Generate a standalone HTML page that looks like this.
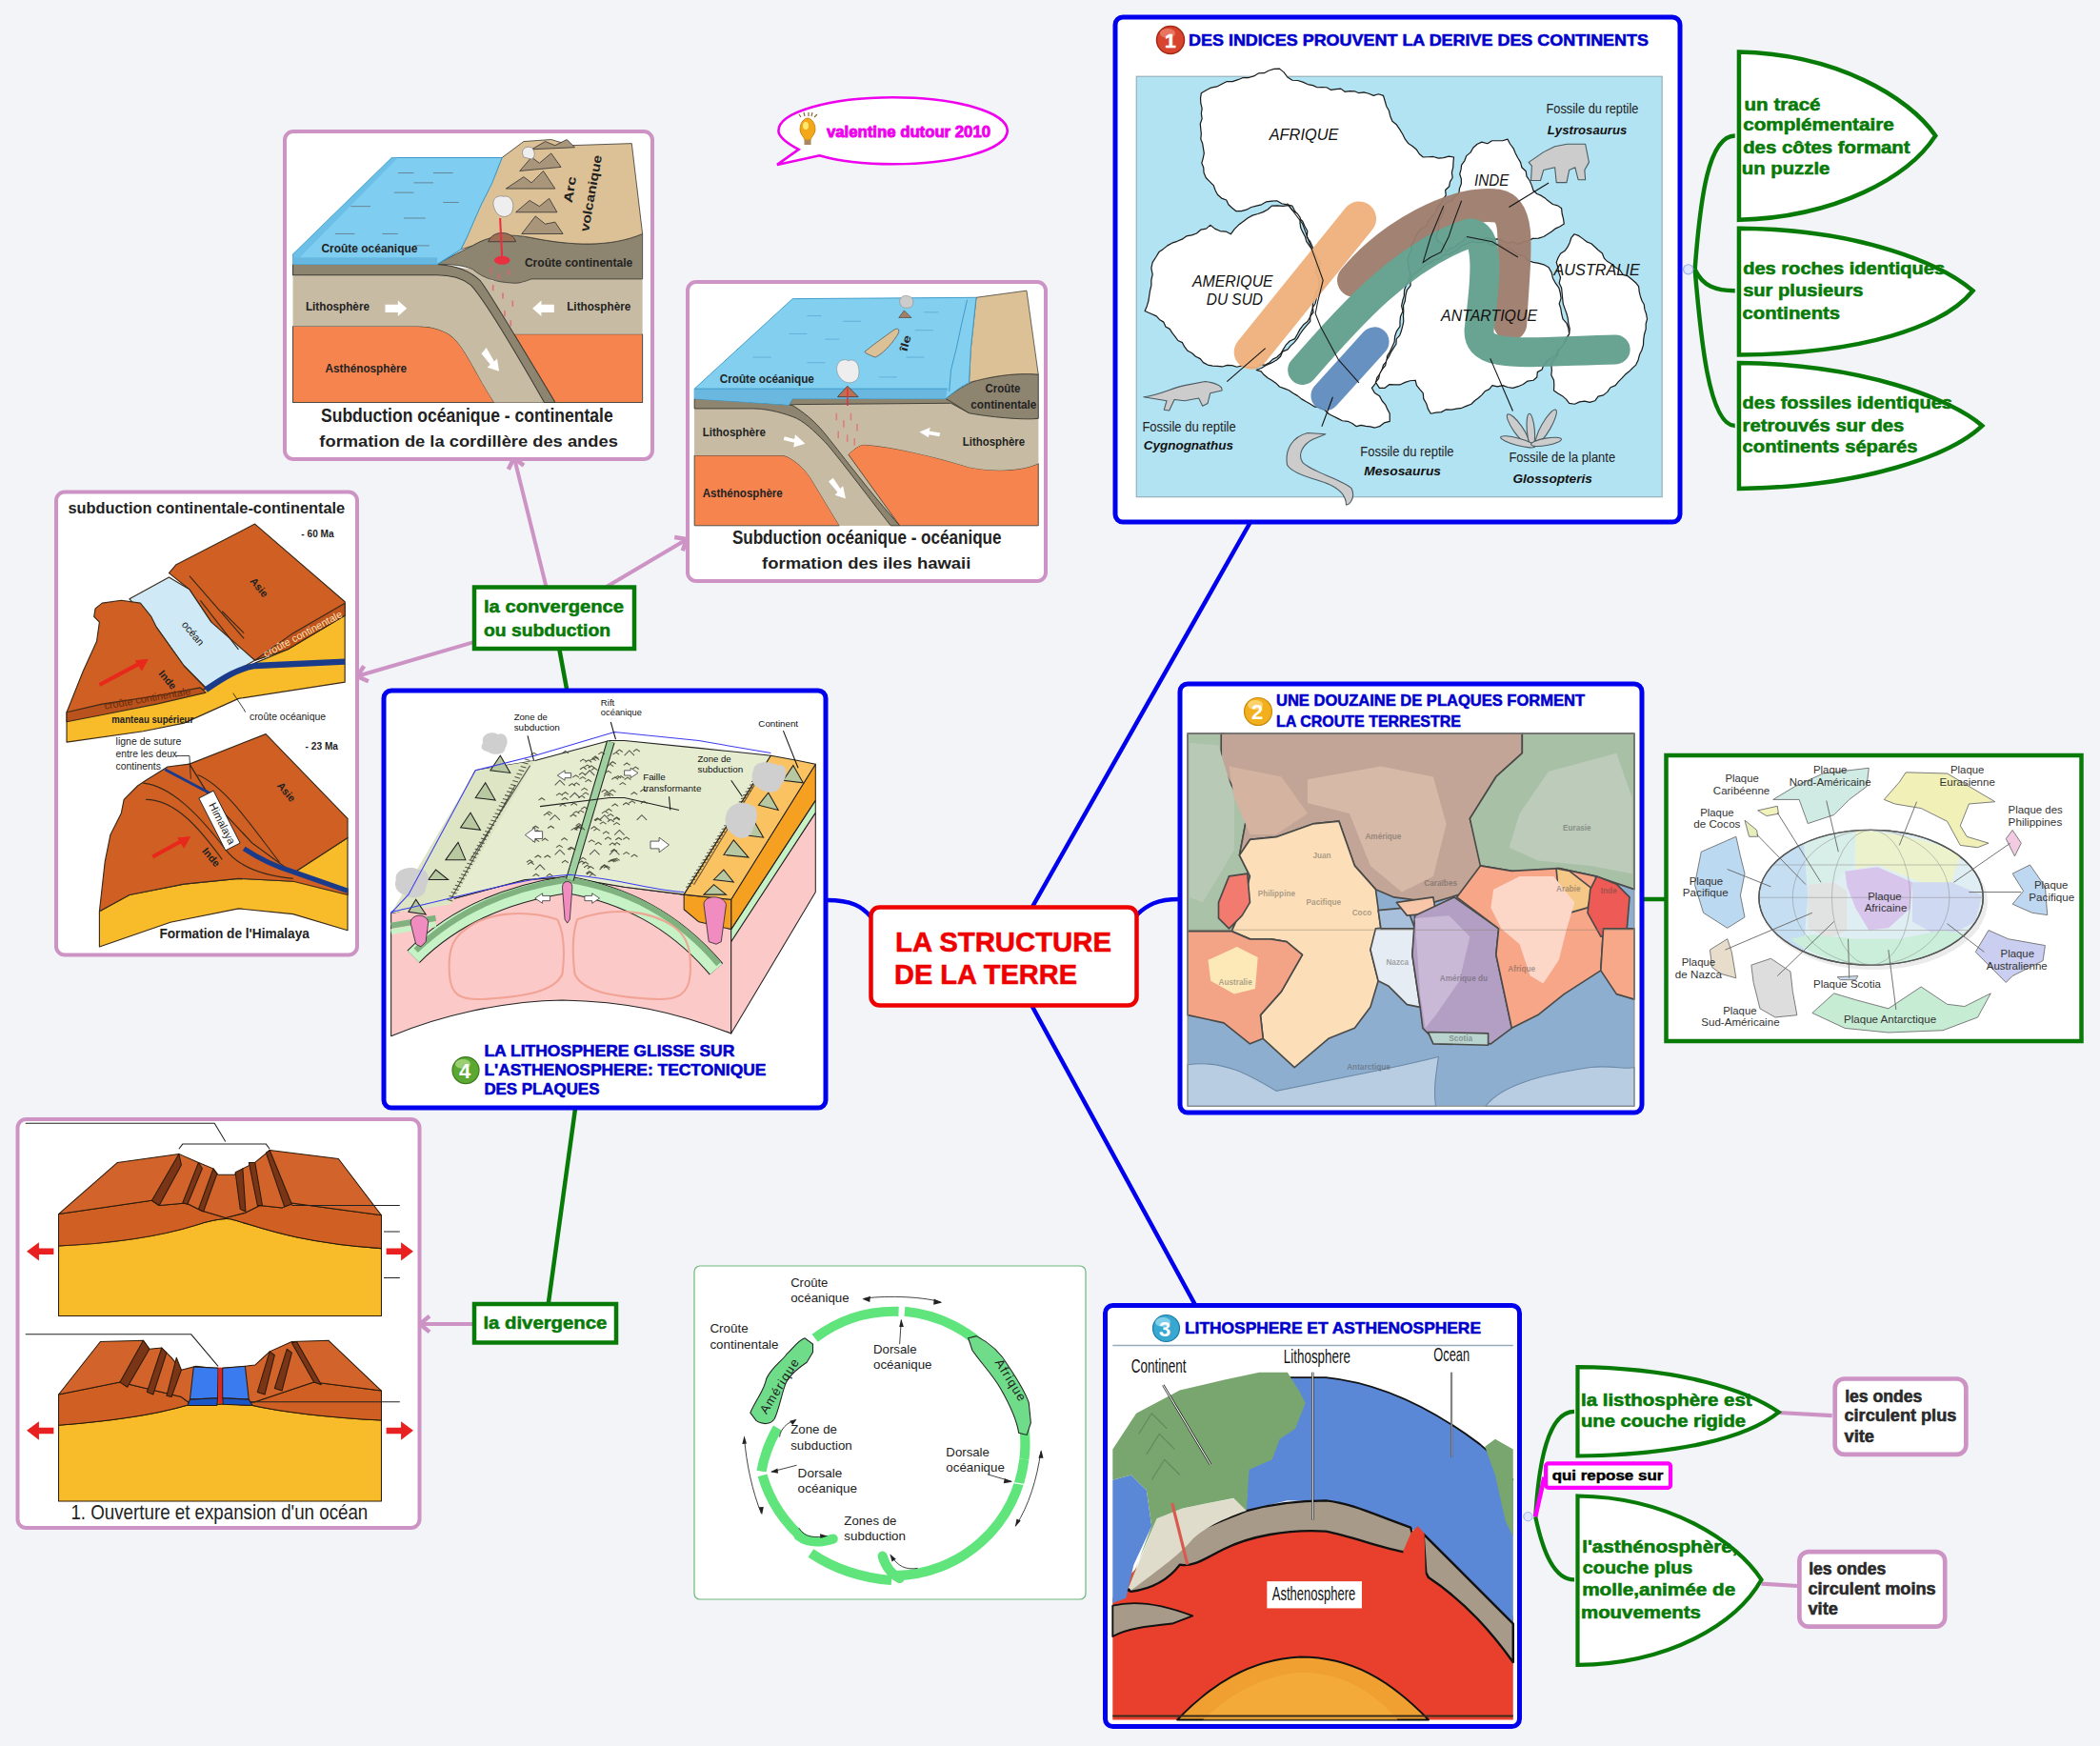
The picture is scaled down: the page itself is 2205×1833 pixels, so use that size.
<!DOCTYPE html>
<html><head><meta charset="utf-8">
<style>
html,body{margin:0;padding:0;background:#f2f4f8;width:2205px;height:1833px;overflow:hidden}
svg{position:absolute;left:0;top:0;display:block}
text{font-family:"Liberation Sans",sans-serif}
.b{font-weight:bold}
</style></head><body>
<svg width="2205" height="1833" viewBox="0 0 2205 1833">
<rect x="0" y="0" width="2205" height="1833" fill="#f2f4f8"/>

<!-- ===== connectors ===== -->
<g fill="none" stroke-linecap="round">
  <!-- blue main branches -->
  <line x1="1084" y1="952" x2="1313" y2="548" stroke="#0000ee" stroke-width="4.5"/>
  <line x1="1083" y1="1055" x2="1255" y2="1370" stroke="#0000ee" stroke-width="4.5"/>
  <path d="M868,945 C895,945 905,952 914,962" stroke="#0000ee" stroke-width="4.5"/>
  <path d="M1194,960 C1205,950 1215,944 1238,944" stroke="#0000ee" stroke-width="4.5"/>
  <!-- green from box4 -->
  <line x1="587.6" y1="683" x2="595" y2="723" stroke="#087a08" stroke-width="4.5"/>
  <line x1="604" y1="1164" x2="576" y2="1367" stroke="#087a08" stroke-width="4.5"/>
  <!-- pink arrows -->
  <line x1="573.5" y1="616" x2="541" y2="485" stroke="#cc93c4" stroke-width="4"/>
  <line x1="636.9" y1="616" x2="718" y2="568" stroke="#cc93c4" stroke-width="4"/>
  <line x1="496.6" y1="674.4" x2="378" y2="709" stroke="#cc93c4" stroke-width="4"/>
  <line x1="497" y1="1390" x2="443" y2="1390" stroke="#cc93c4" stroke-width="4"/>
  <!-- right green connectors box1 -->
  <!-- box2 -> world -->
  <line x1="1726" y1="944" x2="1748" y2="944" stroke="#087a08" stroke-width="4.5"/>
  <!-- box3 right -->
</g>

<path d="M533.8,492.7 L539.5,481.0 L550.0,488.6" fill="none" stroke="#cc93c4" stroke-width="4.5" stroke-linejoin="miter"/>
<path d="M708.2,564.0 L721.0,566.0 L716.8,578.3" fill="none" stroke="#cc93c4" stroke-width="4.5" stroke-linejoin="miter"/>
<path d="M386.9,715.2 L375.0,710.0 L382.2,699.2" fill="none" stroke="#cc93c4" stroke-width="4.5" stroke-linejoin="miter"/>
<path d="M451.0,1398.4 L441.0,1390.0 L451.0,1381.6" fill="none" stroke="#cc93c4" stroke-width="4.5" stroke-linejoin="miter"/>
<!-- ===== central node ===== -->
<rect x="914.5" y="952.5" width="279" height="103" rx="9" fill="#fff" stroke="#ee0000" stroke-width="4.5"/>
<text class="b" x="940" y="998.5" font-size="29" fill="#ee0000" textLength="227" lengthAdjust="spacingAndGlyphs" stroke="#ee0000" stroke-width="0.55">LA STRUCTURE</text>
<text class="b" x="939" y="1032.5" font-size="29" fill="#ee0000" textLength="192" lengthAdjust="spacingAndGlyphs" stroke="#ee0000" stroke-width="0.55">DE LA TERRE</text>

<!-- ===== box 1 ===== -->
<rect x="1171" y="18" width="593" height="530" rx="8" fill="#fff" stroke="#0000ee" stroke-width="5"/>
<g transform="translate(1190,60) scale(0.26923)">
  <rect x="12" y="75" width="2050" height="1640" fill="#b1e3f2" stroke="#8fa9b3" stroke-width="4"/>
  <clipPath id="c1"><rect x="12" y="20" width="2050" height="1740"/></clipPath>
  <g stroke="#1a1a1a" stroke-width="4.5" fill="#fff" stroke-linejoin="round">
    <path d="M265,140 L284,129 L303,119 L326,115 L345,105 L365,95 L387,95 L408,88 L428,80 L450,80 L470,74 L488,63 L510,62 L529,52 L549,46 L570,45 L587,59 L601,78 L620,90 L641,91 L661,97 L680,106 L700,110 L717,118 L736,117 L754,118 L771,128 L790,125 L809,123 L825,135 L844,132 L863,133 L880,140 L899,137 L918,142 L937,150 L956,144 L975,150 L981,170 L987,191 L997,209 L1002,230 L1010,250 L1027,264 L1039,282 L1050,300 L1060,320 L1072,336 L1089,347 L1104,360 L1115,377 L1130,390 L1150,389 L1170,388 L1190,394 L1210,392 L1230,387 L1250,390 L1248,410 L1247,430 L1242,450 L1245,470 L1235,486 L1232,504 L1217,518 L1219,539 L1208,554 L1200,570 L1185,586 L1178,607 L1163,623 L1150,640 L1142,659 L1123,669 L1110,683 L1100,700 L1093,718 L1084,735 L1084,755 L1074,771 L1070,790 L1072,810 L1076,830 L1080,850 L1075,870 L1064,889 L1057,908 L1056,930 L1050,950 L1046,970 L1051,991 L1042,1010 L1040,1030 L1040,1050 L1027,1068 L1020,1089 L1018,1111 L1009,1131 L1000,1150 L990,1166 L988,1186 L975,1200 L970,1218 L962,1235 L950,1250 L945,1272 L930,1290 L941,1309 L960,1321 L970,1340 L983,1355 L991,1373 L1000,1390 L1000,1420 L978,1426 L960,1440 L942,1445 L924,1441 L906,1439 L888,1435 L870,1440 L854,1428 L836,1420 L815,1418 L798,1409 L780,1400 L762,1391 L747,1376 L730,1365 L708,1364 L691,1353 L673,1343 L656,1333 L640,1320 L623,1310 L607,1299 L589,1292 L570,1285 L556,1271 L540,1260 L524,1251 L510,1239 L498,1225 L480,1220 L501,1212 L520,1200 L541,1191 L560,1180 L574,1167 L582,1148 L602,1140 L614,1125 L628,1112 L640,1097 L650,1080 L662,1063 L676,1046 L690,1030 L690,1011 L702,995 L700,976 L710,960 L715,938 L727,918 L740,900 L734,880 L734,860 L729,841 L726,821 L730,800 L716,782 L706,762 L699,741 L690,720 L677,702 L679,678 L669,660 L660,640 L646,627 L638,612 L628,596 L620,580 L599,575 L579,571 L560,560 L539,561 L519,564 L500,575 L480,580 L460,585 L441,595 L421,600 L400,600 L385,588 L371,575 L363,557 L344,550 L329,537 L320,520 L313,500 L298,485 L283,470 L275,450 L274,431 L267,413 L272,394 L276,375 L273,356 L270,337 L263,319 L265,300 L263,280 L261,260 L268,240 L265,220 L268,200 L263,180 L262,160 Z"/>
    <path d="M45,990 L53,971 L59,951 L62,931 L65,911 L70,891 L70,870 L75,847 L70,823 L75,800 L88,780 L100,760 L117,748 L133,735 L151,725 L171,718 L190,710 L207,698 L228,694 L247,687 L263,673 L284,669 L300,655 L318,669 L338,678 L361,680 L380,690 L394,671 L411,654 L430,640 L447,627 L465,617 L486,611 L506,604 L524,594 L540,580 L562,579 L583,581 L605,578 L620,597 L640,610 L651,626 L650,647 L653,666 L661,683 L670,700 L675,718 L685,733 L696,748 L697,768 L709,783 L715,800 L713,820 L713,841 L722,860 L724,880 L725,900 L712,918 L706,939 L700,960 L699,979 L694,996 L689,1014 L680,1030 L663,1044 L650,1061 L640,1080 L630,1098 L610,1107 L596,1121 L585,1139 L575,1156 L560,1170 L544,1178 L530,1191 L515,1200 L493,1199 L480,1212 L461,1209 L442,1209 L423,1203 L404,1208 L385,1202 L366,1201 L347,1207 L328,1205 L309,1204 L290,1200 L273,1191 L261,1176 L243,1167 L229,1154 L212,1145 L200,1130 L191,1113 L174,1105 L163,1090 L152,1076 L142,1060 L126,1051 L118,1033 L102,1023 L90,1010 L68,1000 Z"/>
    <path d="M1280,420 L1292,404 L1299,385 L1315,372 L1325,354 L1340,340 L1359,331 L1381,337 L1399,326 L1420,326 L1440,326 L1460,320 L1469,338 L1482,355 L1490,374 L1499,392 L1510,410 L1515,430 L1531,445 L1534,465 L1546,482 L1554,501 L1560,520 L1574,533 L1591,540 L1607,551 L1621,563 L1636,574 L1655,579 L1670,590 L1672,610 L1677,630 L1680,650 L1664,660 L1647,668 L1632,680 L1616,690 L1600,700 L1580,706 L1558,707 L1539,716 L1519,720 L1500,730 L1481,721 L1459,725 L1440,717 L1421,709 L1400,710 L1380,704 L1360,710 L1340,709 L1320,703 L1300,700 L1287,716 L1270,726 L1255,740 L1235,746 L1220,760 L1213,743 L1204,727 L1187,717 L1180,700 L1188,681 L1192,660 L1191,639 L1204,621 L1210,601 L1210,580 L1223,565 L1243,559 L1254,542 L1270,530 L1272,512 L1279,494 L1279,475 L1273,456 L1278,438 Z"/>
    <path d="M1090,850 L1108,838 L1124,823 L1140,810 L1160,800 L1177,790 L1197,786 L1212,771 L1232,769 L1250,760 L1267,749 L1282,735 L1301,728 L1320,720 L1338,723 L1357,723 L1375,720 L1393,732 L1411,732 L1430,730 L1445,745 L1467,746 L1484,758 L1500,770 L1522,775 L1539,793 L1560,800 L1581,804 L1601,809 L1620,820 L1631,840 L1636,862 L1647,882 L1660,900 L1665,920 L1668,940 L1661,961 L1667,980 L1670,1000 L1675,1021 L1690,1038 L1697,1058 L1700,1080 L1688,1095 L1681,1112 L1674,1131 L1656,1141 L1650,1160 L1632,1172 L1614,1184 L1600,1200 L1594,1218 L1576,1228 L1574,1248 L1560,1260 L1538,1263 L1520,1276 L1501,1284 L1480,1290 L1460,1287 L1441,1280 L1420,1285 L1400,1280 L1388,1295 L1371,1303 L1359,1317 L1346,1329 L1331,1340 L1318,1353 L1300,1360 L1281,1368 L1260,1371 L1240,1375 L1219,1374 L1201,1384 L1180,1386 L1160,1390 L1149,1371 L1143,1351 L1132,1332 L1130,1310 L1117,1295 L1105,1280 L1100,1260 L1079,1262 L1060,1268 L1041,1277 L1020,1277 L999,1276 L981,1290 L960,1290 L945,1268 L957,1253 L961,1234 L971,1217 L983,1202 L987,1183 L997,1167 L1005,1150 L1015,1134 L1025,1119 L1026,1099 L1039,1085 L1045,1068 L1050,1050 L1054,1030 L1053,1010 L1054,990 L1053,969 L1060,950 L1062,929 L1067,909 L1081,891 L1081,869 Z"/>
    <path d="M1650,800 L1657,782 L1666,766 L1683,755 L1694,740 L1702,723 L1708,704 L1720,690 L1738,697 L1753,708 L1768,720 L1786,727 L1800,740 L1814,753 L1829,765 L1836,784 L1849,797 L1866,807 L1880,820 L1898,830 L1909,848 L1929,854 L1945,867 L1960,880 L1971,895 L1973,914 L1977,931 L1983,949 L1992,965 L1994,983 L2000,1000 L2004,1021 L1999,1040 L1999,1060 L1993,1080 L1990,1100 L1989,1122 L1983,1142 L1974,1161 L1969,1181 L1960,1200 L1946,1213 L1933,1226 L1918,1238 L1905,1252 L1892,1265 L1880,1280 L1861,1288 L1849,1305 L1833,1318 L1813,1323 L1800,1340 L1780,1346 L1760,1341 L1740,1344 L1721,1353 L1700,1350 L1688,1334 L1673,1321 L1656,1311 L1640,1300 L1641,1280 L1640,1260 L1630,1240 L1632,1220 L1630,1200 L1640,1180 L1654,1162 L1660,1140 L1673,1127 L1683,1112 L1691,1096 L1700,1080 L1702,1059 L1697,1040 L1695,1020 L1690,1000 L1683,981 L1676,961 L1674,941 L1672,920 L1670,900 L1661,881 L1666,859 L1659,840 L1656,820 Z"/>
  </g>
  <g fill="none" stroke-linecap="round" opacity="0.95">
    <path d="M460,1150 L880,630" stroke="#efb17c" stroke-width="135"/>
    <path d="M860,870 C1000,700 1250,560 1420,580 C1520,600 1480,800 1470,1040" stroke="#9e7c6c" stroke-width="130"/>
    <path d="M660,1220 C850,1000 1050,780 1300,690 C1400,660 1370,900 1350,1050 C1330,1180 1500,1150 1880,1140" stroke="#629f8c" stroke-width="115"/>
    <path d="M750,1320 L940,1110" stroke="#5f8cbe" stroke-width="115"/>
  </g>
  <g fill="none" stroke="#1a1a1a" stroke-width="4">
    <path d="M600,570 L660,650 L700,760 L740,870 L720,950 L710,1000 L730,1050 L800,1180 L880,1270"/>
    <path d="M1210,580 L1160,700 L1130,800 L1160,780 L1200,760 L1230,700 L1250,640 L1280,560"/>
    <path d="M1300,700 L1400,720 L1500,780"/>
  </g>
  <g fill="#cccccc" stroke="#4a5a60" stroke-width="4" stroke-linejoin="round">
    <path d="M1542,410 L1600,370 L1644,348 L1692,339 L1763,339 L1777,410 L1760,440 L1763,478 L1735,478 L1723,430 L1700,440 L1690,489 L1650,489 L1644,430 L1600,440 L1588,481 L1551,481 L1554,424 Z"/>
    <path d="M40,1325 C100,1320 150,1290 200,1280 L280,1265 C320,1268 350,1285 345,1300 L300,1310 L290,1350 L270,1360 L255,1330 L200,1340 L160,1335 L140,1378 L120,1375 L130,1340 Z"/>
    <path d="M600,1590 C590,1530 620,1480 680,1465 L750,1470 L700,1490 C660,1510 640,1550 660,1580 C700,1620 800,1640 850,1680 C870,1720 840,1746 830,1746 C830,1700 790,1670 720,1650 C650,1630 610,1610 600,1590 Z"/>
    <ellipse cx="1500" cy="1450" rx="18" ry="70" transform="rotate(-35 1500 1450)"/>
    <ellipse cx="1610" cy="1440" rx="18" ry="75" transform="rotate(30 1610 1440)"/>
    <ellipse cx="1550" cy="1455" rx="15" ry="65" transform="rotate(-5 1550 1455)"/>
    <ellipse cx="1500" cy="1500" rx="70" ry="14" transform="rotate(15 1500 1500)"/>
    <ellipse cx="1610" cy="1500" rx="60" ry="14" transform="rotate(-10 1610 1500)"/>
  </g>
  <g stroke="#111" stroke-width="4" fill="none">
    <line x1="1620" y1="490" x2="1465" y2="585"/>
    <line x1="365" y1="1265" x2="515" y2="1135"/>
    <line x1="735" y1="1440" x2="778" y2="1325"/>
    <line x1="1480" y1="1380" x2="1392" y2="1175"/>
  </g>
  <g fill="#111" font-style="italic">
    <text x="530" y="325" font-size="64" textLength="270" lengthAdjust="spacingAndGlyphs">AFRIQUE</text>
    <text x="230" y="895" font-size="64" textLength="315" lengthAdjust="spacingAndGlyphs">AMERIQUE</text>
    <text x="285" y="965" font-size="64" textLength="220" lengthAdjust="spacingAndGlyphs">DU SUD</text>
    <text x="1330" y="500" font-size="64" textLength="135" lengthAdjust="spacingAndGlyphs">INDE</text>
    <text x="1200" y="1030" font-size="64" textLength="375" lengthAdjust="spacingAndGlyphs">ANTARTIQUE</text>
    <text x="1640" y="850" font-size="64" textLength="335" lengthAdjust="spacingAndGlyphs">AUSTRALIE</text>
  </g>
  <g fill="#222">
    <text x="1610" y="220" font-size="52" textLength="360" lengthAdjust="spacingAndGlyphs">Fossile du reptile</text>
    <text x="35" y="1460" font-size="52" textLength="365" lengthAdjust="spacingAndGlyphs">Fossile du reptile</text>
    <text x="885" y="1555" font-size="52" textLength="365" lengthAdjust="spacingAndGlyphs">Fossile du reptile</text>
    <text x="1465" y="1580" font-size="52" textLength="415" lengthAdjust="spacingAndGlyphs">Fossile de la plante</text>
  </g>
  <g fill="#111" font-style="italic" font-weight="bold">
    <text x="1615" y="300" font-size="50" textLength="310" lengthAdjust="spacingAndGlyphs">Lystrosaurus</text>
    <text x="40" y="1530" font-size="50" textLength="350" lengthAdjust="spacingAndGlyphs">Cygnognathus</text>
    <text x="900" y="1630" font-size="50" textLength="300" lengthAdjust="spacingAndGlyphs">Mesosaurus</text>
    <text x="1480" y="1660" font-size="50" textLength="310" lengthAdjust="spacingAndGlyphs">Glossopteris</text>
  </g>
</g>
<!-- title 1 -->
<circle cx="1229" cy="42" r="14.5" fill="#d9442e"/>
<circle cx="1229" cy="42" r="14.5" fill="none" stroke="#a52815" stroke-width="1.5"/>
<ellipse cx="1226" cy="35" rx="8" ry="5" fill="#f08a76" opacity="0.7"/>
<text class="b" x="1223" y="50" font-size="21" fill="#fff" stroke="#fff" stroke-width="0.55">1</text>
<text class="b" x="1248" y="47.8" font-size="17.3" fill="#0000cc" textLength="483" lengthAdjust="spacingAndGlyphs" stroke="#0000cc" stroke-width="0.55">DES INDICES PROUVENT LA DERIVE DES CONTINENTS</text>

<!-- ===== box 2 ===== -->
<rect x="1239" y="718" width="485" height="450" rx="8" fill="#fff" stroke="#0000ee" stroke-width="5"/>
<g transform="translate(1230,700) scale(0.27488)">
  <rect x="62" y="255" width="1706" height="1423" fill="#8eaed0"/>
  <g stroke="#4a4a48" stroke-width="6" stroke-linejoin="round">
    <path fill="#a9c2a8" d="M62,255 L200,255 L190,380 L290,560 L260,720 L300,800 L270,920 L230,1010 L62,1010 Z"/>
    <path fill="#c3a597" d="M190,255 L1340,255 L1340,330 L1240,420 L1140,580 L1190,760 L1100,870 L1000,900 L850,880 L780,850 L700,760 L640,590 L540,600 L400,650 L300,660 L260,720 L290,560 L190,380 Z"/>
    <path fill="#a8c1a6" d="M1340,255 L1768,255 L1768,850 L1620,800 L1480,770 L1400,790 L1300,780 L1180,760 L1140,580 L1240,420 L1340,330 Z"/>
    <path fill="#fcdfb8" d="M260,720 L300,660 L400,650 L540,600 L640,590 L700,760 L780,850 L800,1000 L760,1080 L790,1200 L760,1300 L700,1380 L600,1420 L470,1530 L350,1420 L340,1330 L420,1240 L500,1100 L440,1050 L380,1040 L300,1040 L230,1010 L270,920 L300,800 Z"/>
    <path fill="#f27a6e" d="M180,900 L220,800 L290,790 L300,900 L270,950 L220,1000 L180,960 Z"/>
    <path fill="#f4a486" d="M62,1010 L230,1010 L300,1040 L380,1040 L440,1050 L500,1100 L420,1240 L340,1330 L350,1420 L300,1440 L200,1360 L62,1330 Z"/>
    <path fill="#e6ecf3" d="M780,1000 L900,990 L930,1000 L920,1100 L950,1300 L900,1290 L830,1220 L790,1200 L760,1080 Z"/>
    <path fill="#a9c0dc" d="M790,930 L900,920 L930,1000 L800,1000 Z"/>
    <path fill="#f8c6a8" d="M860,900 L1000,880 L1010,940 L900,950 Z"/>
    <path fill="#b49fc4" d="M930,950 L1080,880 L1250,1000 L1240,1100 L1300,1380 L1220,1440 L1000,1420 L960,1380 L950,1300 L920,1100 Z"/>
    <path fill="#b9d3cf" d="M980,1395 L1210,1400 L1210,1445 L1000,1440 Z"/>
    <path fill="#f7a688" d="M1090,880 L1180,760 L1300,780 L1480,770 L1620,800 L1650,1000 L1640,1160 L1500,1250 L1400,1330 L1300,1380 L1240,1100 L1250,1000 Z"/>
    <path fill="#f6c888" d="M1470,770 L1520,780 L1610,850 L1590,920 L1520,940 L1480,880 Z"/>
    <path fill="#ee5a55" d="M1600,850 L1625,800 L1700,830 L1750,880 L1740,1000 L1720,1030 L1640,1030 L1590,940 Z"/>
    <path fill="#f7a888" d="M1650,1000 L1768,1000 L1768,1270 L1700,1250 L1640,1160 Z"/>
  </g>
  <g stroke="none">
    <path fill="#c9b8d6" d="M930,960 L1060,950 L1140,1030 L1100,1200 L1010,1330 L970,1380 L950,1250 Z"/>
    <path fill="#fcd6c6" d="M1230,850 L1330,800 L1460,800 L1540,900 L1510,1000 L1480,1120 L1420,1210 L1370,1180 L1330,1060 L1260,1000 L1220,920 Z"/>
    <path fill="#fde9b8" d="M140,1120 L250,1070 L330,1110 L320,1230 L240,1250 L150,1200 Z"/>
    <path fill="#b8c9b6" d="M70,290 L180,300 L240,500 L240,700 L180,800 L120,900 L70,880 Z"/>
    <path fill="#bccbba" d="M1440,400 L1700,330 L1760,500 L1760,790 L1600,760 L1400,740 L1290,690 L1330,560 Z"/>
    <path fill="#d6b9a6" d="M520,430 L800,380 L1000,420 L1050,600 L1000,800 L880,860 L760,760 L680,560 L520,520 Z"/>
    <path fill="#d4b4a0" d="M220,380 L420,420 L520,560 L400,640 L300,640 L240,500 Z"/>
    <path fill="#b9cde2" stroke="#6b8aa8" stroke-width="4" d="M62,1520 C200,1500 300,1560 400,1620 C500,1600 600,1580 700,1560 C800,1540 900,1520 1020,1490 C1010,1560 1000,1620 1010,1678 L62,1678 Z"/>
    <path fill="#b9cde2" stroke="#6b8aa8" stroke-width="4" d="M1200,1678 C1260,1600 1400,1560 1600,1530 C1680,1520 1740,1540 1768,1530 L1768,1678 Z"/>
  </g>
  <line x1="62" y1="1005" x2="1768" y2="1005" stroke="#8a8070" stroke-width="3" opacity="0.6"/>
  <rect x="62" y="255" width="1706" height="1423" fill="none" stroke="#888" stroke-width="4"/>
  <g fill="#4a4a4a" font-size="30" font-weight="bold" opacity="0.45">
    <text x="1495" y="625">Eurasie</text>
    <text x="740" y="660">Amérique</text>
    <text x="540" y="730">Juan</text>
    <text x="330" y="875">Philippine</text>
    <text x="515" y="910">Pacifique</text>
    <text x="690" y="950">Coco</text>
    <text x="965" y="835">Caraïbes</text>
    <text x="820" y="1140">Nazca</text>
    <text x="1025" y="1200">Amérique du</text>
    <text x="1285" y="1165">Afrique</text>
    <text x="180" y="1215">Australie</text>
    <text x="1060" y="1430">Scotia</text>
    <text x="670" y="1540">Antarctique</text>
    <text x="1640" y="865">Inde</text>
    <text x="1470" y="860">Arabie</text>
  </g>
</g>
<!-- title 2 -->
<circle cx="1321" cy="747" r="14.5" fill="#f2b01e"/>
<circle cx="1321" cy="747" r="14.5" fill="none" stroke="#c98a0a" stroke-width="1.2"/>
<ellipse cx="1318" cy="740" rx="8" ry="5" fill="#fde08a" opacity="0.7"/>
<text x="1314" y="755" font-size="22" fill="#fff" font-family="Liberation Serif" font-weight="bold">2</text>
<text class="b" x="1340" y="741.2" font-size="17" fill="#0000cc" textLength="324" lengthAdjust="spacingAndGlyphs" stroke="#0000cc" stroke-width="0.55">UNE DOUZAINE DE PLAQUES FORMENT</text>
<text class="b" x="1340" y="762.7" font-size="17" fill="#0000cc" textLength="194" lengthAdjust="spacingAndGlyphs" stroke="#0000cc" stroke-width="0.55">LA CROUTE TERRESTRE</text>

<!-- ===== box 3 ===== -->
<rect x="1160.5" y="1370.5" width="435" height="442" rx="8" fill="#fff" stroke="#0000ee" stroke-width="5"/>
<g transform="translate(1150,1360) scale(0.26918)">
  <rect x="68" y="195" width="1562" height="1460" fill="#fff"/>
  <line x1="68" y1="195" x2="1630" y2="195" stroke="#9ab" stroke-width="5"/>
  <g stroke-linejoin="round">
    <path fill="#e9402e" d="M68,1180 L68,1655 L1630,1655 L1630,1250 C1500,1100 1350,980 1150,900 C950,820 700,820 450,880 C300,920 150,1050 68,1180 Z"/>
    <path fill="#5a87d6" d="M600,330 L750,320 L900,320 C1100,340 1300,430 1500,580 C1560,630 1600,680 1630,720 L1630,1280 C1500,1150 1400,1050 1280,930 L1230,910 C1050,840 900,800 750,800 L590,840 Z"/>
    <path fill="none" stroke="#111" stroke-width="7" d="M750,320 L900,320 C1100,340 1300,430 1500,580 C1560,630 1600,680 1630,720"/>
    <path fill="#5a87d6" d="M68,720 L140,700 L200,760 L220,900 L150,1050 L120,1180 L68,1200 Z"/>
    <path fill="#a79a88" stroke="#111" stroke-width="9" d="M130,1150 C200,1060 300,960 400,920 C480,880 540,860 590,840 C700,810 800,800 900,800 C1000,810 1100,860 1230,905 L1240,940 L1230,990 L1200,1000 C1100,980 1000,940 900,920 C750,910 600,940 500,990 C420,1030 380,1060 330,1050 C300,1090 250,1140 140,1155 Z"/>
    <path fill="#a79a88" stroke="#111" stroke-width="9" d="M1280,930 C1350,1000 1450,1100 1630,1280 L1630,1430 C1550,1320 1450,1200 1300,1100 L1290,1080 Z"/>
    <path fill="#a79a88" stroke="#111" stroke-width="7" d="M68,1210 C150,1190 250,1200 380,1250 L300,1280 C200,1290 120,1300 68,1330 Z"/>
    <path fill="#e9402e" d="M1232,925 L1258,900 L1284,928 L1288,1090 C1260,1060 1230,1020 1200,1000 Z"/>
    <path fill="#efa030" stroke="#111" stroke-width="7" d="M320,1655 C450,1520 600,1420 800,1410 C1000,1410 1150,1500 1300,1655 Z"/>
    <path fill="#f5b040" d="M420,1655 C520,1560 650,1480 800,1470 C960,1470 1080,1540 1180,1655 Z" opacity="0.6"/>
    <path fill="#e0dccb" d="M130,1140 L240,870 L340,830 L550,790 L590,840 C500,870 420,910 380,950 C330,1010 260,1060 140,1150 Z"/>
    <path fill="#79a66f" d="M68,600 L160,460 L330,370 L500,330 L640,300 L750,300 L800,380 L820,420 L780,520 L720,560 L690,640 L600,680 L590,840 L540,790 L340,830 L240,870 L150,1080 L130,1140 L220,900 L200,760 L140,700 L68,720 Z"/>
    <path fill="#79a66f" d="M1520,590 L1560,560 L1630,600 L1630,940 L1600,880 L1560,700 Z"/>
  </g>
  <path d="M300,810 L360,1050" stroke="#d85a50" stroke-width="12"/>
  <g fill="none" stroke="#5d8a58" stroke-width="4">
    <path d="M170,540 L220,460 L280,520 M200,620 L250,540 L310,600 M220,720 L270,640 L330,700"/>
  </g>
  <path d="M265,350 L450,660" stroke="#111" stroke-width="9"/>
  <path d="M265,350 L450,660" stroke="#fff" stroke-width="4"/>
  <path d="M848,300 L848,875" stroke="#111" stroke-width="9"/>
  <path d="M848,300 L848,875" stroke="#fff" stroke-width="4"/>
  <path d="M1390,300 L1390,630" stroke="#111" stroke-width="7"/>
  <path d="M1390,300 L1390,630" stroke="#fff" stroke-width="3"/>
  <line x1="68" y1="1640" x2="1630" y2="1640" stroke="#3a2a1a" stroke-width="8"/>
  <rect x="670" y="1115" width="370" height="105" fill="#fff"/>
  <g fill="#111">
    <text x="690" y="1187" font-size="72" textLength="325" lengthAdjust="spacingAndGlyphs">Asthenosphere</text>
    <text x="140" y="300" font-size="72" textLength="215" lengthAdjust="spacingAndGlyphs">Continent</text>
    <text x="735" y="265" font-size="72" textLength="260" lengthAdjust="spacingAndGlyphs">Lithosphere</text>
    <text x="1320" y="258" font-size="72" textLength="140" lengthAdjust="spacingAndGlyphs">Ocean</text>
  </g>
</g>
<!-- title 3 -->
<circle cx="1224.5" cy="1394.5" r="14" fill="#38a8d0"/>
<circle cx="1224.5" cy="1394.5" r="14" fill="none" stroke="#1a7aa8" stroke-width="1.2"/>
<ellipse cx="1221" cy="1388" rx="8" ry="5" fill="#9ee0f2" opacity="0.7"/>
<text x="1217" y="1402.5" font-size="22" fill="#fff" font-family="Liberation Serif" font-weight="bold">3</text>
<text class="b" x="1244" y="1400" font-size="17" fill="#0000cc" textLength="311" lengthAdjust="spacingAndGlyphs" stroke="#0000cc" stroke-width="0.55">LITHOSPHERE ET ASTHENOSPHERE</text>

<!-- ===== box 4 ===== -->
<rect x="403" y="725" width="464" height="438" rx="8" fill="#fff" stroke="#0000ee" stroke-width="5"/>
<g transform="translate(395,715) scale(0.26062)">
  <g stroke="#222" stroke-width="4" stroke-linejoin="round">
    <path fill="#fcc9c9" d="M60,935 L300,880 L600,800 L770,790 L1000,830 L1240,860 L1430,880 L1430,1420 C1200,1330 1000,1290 750,1285 C500,1290 250,1350 60,1430 Z"/>
    <path fill="#fcc9c9" d="M1430,1040 L1770,530 L1770,850 L1430,1420 Z"/>
    <path fill="#c6f2c6" d="M1430,1000 L1770,480 L1770,530 L1430,1050 Z"/>
    <path fill="#f5a020" d="M1430,880 L1770,335 L1770,480 L1430,1000 Z"/>
    <path fill="#f5a020" d="M1240,860 L1430,880 L1430,1000 L1300,970 L1240,920 Z"/>
    <path fill="#e6ecd0" d="M60,935 L130,860 L400,360 L640,320 L940,240 L1000,240 L1300,270 L1590,300 L1240,860 L1000,830 L770,790 L600,800 L300,880 Z"/>
    <path fill="#dde5c4" stroke="none" d="M60,935 L400,360 L640,320 L300,900 Z"/>
    <path fill="#fbc262" d="M1240,860 L1590,300 L1700,320 L1770,335 L1430,880 Z"/>
  </g>
  <!-- lithosphere arch bands -->
  <g fill="none" stroke-linejoin="round">
    <path d="M150,1110 C300,960 500,860 770,820 C1000,860 1200,960 1370,1160" stroke="#222" stroke-width="72"/>
    <path d="M150,1110 C300,960 500,860 770,820 C1000,860 1200,960 1370,1160" stroke="#c6f2c6" stroke-width="64"/>
    <path d="M160,1085 C310,940 510,840 770,800 C1010,840 1210,940 1380,1140" stroke="#7fb27f" stroke-width="24"/>
    <path d="M60,985 L240,955" stroke="#7fb27f" stroke-width="24"/>
    <path d="M60,1010 L240,980" stroke="#c6f2c6" stroke-width="22"/>
  </g>
  <!-- ridge -->
  <path d="M945,245 L780,800" stroke="#222" stroke-width="34" fill="none"/>
  <path d="M945,245 L780,800" stroke="#9fd09f" stroke-width="26" fill="none"/>
  <path d="M660,505 L940,470 L1000,470 L1220,520" stroke="#222" stroke-width="4" fill="none"/>
  <!-- hatch marks -->
  <g stroke="#333" stroke-width="4" fill="none" opacity="0.8">
    <path d="M720,420 L740,400 L760,420 M780,470 L800,450 L820,470 M840,380 L860,360 L880,380 M700,560 L720,540 L740,560 M800,600 L820,580 L840,600 M900,560 L920,540 L940,560 M960,620 L980,600 L1000,620 M860,700 L880,680 L900,700 M720,700 L740,680 L760,700 M940,700 L960,680 L980,700 M1000,300 L1020,280 L1040,300 M1050,560 L1070,540 L1090,560 M640,760 L660,740 L680,760 M900,760 L920,740 L940,760"/>
    <path d="M380,720 L620,340 M300,880 L560,420"/>
    <path d="M1280,820 L1560,360"/>
  </g>
<path fill="none" stroke="#3a3a2a" stroke-width="4" opacity="0.85" d="M791,388 L804,379 L817,388 M800,593 L813,584 L826,593 M639,711 L652,702 L665,711 M610,739 L623,730 L636,739 M895,295 L908,286 L921,295 M815,734 L828,725 L841,734 M939,661 L952,652 L965,661 M747,479 L760,470 L773,479 M1066,493 L1079,484 L1092,493 M821,324 L834,315 L847,324 M631,786 L644,777 L657,786 M909,533 L922,524 L935,533 M749,457 L762,448 L775,457 M745,641 L758,632 L771,641 M955,723 L968,714 L981,723 M817,378 L830,369 L843,378 M830,738 L843,729 L856,738 M953,296 L966,287 L979,296 M776,422 L789,413 L802,422 M934,729 L947,720 L960,729 M855,649 L868,640 L881,649 M916,753 L929,744 L942,753 M815,471 L828,462 L841,471 M748,732 L761,723 L774,732 M859,785 L872,776 L885,785 M781,546 L794,537 L807,546 M691,593 L704,584 L717,593 M793,534 L806,525 L819,534 M955,560 L968,551 L981,560 M804,598 L817,589 L830,598 M826,516 L839,507 L852,516 M826,440 L839,431 L852,440 M749,291 L762,282 L775,291 M956,579 L969,570 L982,579 M831,458 L844,449 L857,458 M980,418 L993,409 L1006,418 M945,687 L958,678 L971,687 M922,371 L935,362 L948,371 M784,500 L797,491 L810,500 M872,317 L885,308 L898,317 M949,504 L962,495 L975,504 M821,356 L834,347 L847,356 M994,499 L1007,490 L1020,499 M842,327 L855,318 L868,327 M866,359 L879,350 L892,359 M995,698 L1008,689 L1021,698 M860,321 L873,312 L886,321 M1064,445 L1077,436 L1090,445 M654,480 L667,471 L680,480 M904,751 L917,742 L930,751 M613,622 L626,613 L639,622 M842,406 L855,397 L868,406 M901,576 L914,567 L927,576 M1027,708 L1040,699 L1053,708 M846,775 L859,766 L872,775 M854,350 L867,341 L880,350 M1018,492 L1031,483 L1044,492 M785,601 L798,592 L811,601 M924,524 L937,515 L950,524 M918,456 L931,447 L944,456 M1032,355 L1045,346 L1058,355 M851,756 L864,747 L877,756 M636,610 L649,601 L662,610 M931,545 L944,536 L957,545 M940,334 L953,325 L966,334 M820,720 L833,711 L846,720 M811,530 L824,521 L837,530 M913,615 L926,606 L939,615 M908,447 L921,438 L934,447 M932,567 L945,558 L958,567 M930,462 L943,453 L956,462 M865,595 L878,586 L891,595 M918,464 L931,455 L944,464 M725,461 L738,452 L751,461 M667,643 L680,634 L693,643 M973,391 L986,382 L999,391 M921,638 L934,629 L947,638 M837,751 L850,742 L863,751 M1026,457 L1039,448 L1052,457 M739,504 L752,495 L765,504 M677,711 L690,702 L703,711 M626,629 L639,620 L652,629 M956,557 L969,548 L982,557 M997,339 L1010,330 L1023,339 M967,286 L980,277 L993,286 M930,344 L943,335 L956,344 M947,725 L960,716 L973,725 M940,727 L953,718 L966,727 M777,680 L790,671 L803,680 M957,660 L970,651 L983,660 M1036,284 L1049,275 L1062,284 M878,561 L891,552 L904,561 M819,395 L832,386 L845,395 M725,670 L738,661 L751,670 M939,447 L952,438 L965,447 M623,298 L636,289 L649,298 M838,347 L851,338 L864,347 M675,541 L688,532 L701,541 M876,603 L889,594 L902,603 M771,678 L784,669 L797,678 M683,535 L696,526 L709,535 M949,396 L962,387 L975,396 M804,583 L817,574 L830,583 M848,779 L861,770 L874,779 M631,647 L644,638 L657,647 M1000,397 L1013,388 L1026,397 M629,593 L642,584 L655,593 M882,563 L895,554 L908,563 M882,659 L895,650 L908,659 M686,786 L699,777 L712,786 M995,638 L1008,629 L1021,638 M961,391 L974,382 L987,391 M964,640 L977,631 L990,640 M606,730 L619,721 L632,730 M870,312 L883,303 L896,312 M794,419 L807,410 L820,419 M620,320 L598,314 M612,334 L590,328 M604,349 L582,343 M596,364 L574,358 M588,378 L566,372 M580,392 L558,386 M572,407 L550,401 M564,422 L542,416 M556,436 L534,430 M548,450 L526,444 M540,465 L518,459 M532,480 L510,474 M524,494 L502,488 M516,508 L494,502 M508,523 L486,517 M500,538 L478,532 M492,552 L470,546 M484,566 L462,560 M476,581 L454,575 M468,596 L446,590 M460,610 L438,604 M452,624 L430,618 M444,639 L422,633 M436,654 L414,648 M428,668 L406,662 M420,682 L398,676 M412,697 L390,691 M404,712 L382,706 M396,726 L374,720 M388,740 L366,734 M380,755 L358,749 M372,770 L350,764 M364,784 L342,778 M356,798 L334,792 M348,813 L326,807 M340,828 L318,822 M332,842 L310,836 M324,856 L302,850 M316,871 L294,865 M308,886 L286,880 M1560,360 L1538,364 M1551,374 L1529,378 M1543,387 L1521,391 M1534,401 L1512,405 M1526,415 L1504,419 M1517,429 L1495,433 M1509,442 L1487,446 M1500,456 L1478,460 M1491,470 L1469,474 M1483,483 L1461,487 M1474,497 L1452,501 M1466,511 L1444,515 M1457,525 L1435,529 M1449,538 L1427,542 M1440,552 L1418,556 M1431,566 L1409,570 M1423,579 L1401,583 M1414,593 L1392,597 M1406,607 L1384,611 M1397,621 L1375,625 M1389,634 L1367,638 M1380,648 L1358,652 M1371,662 L1349,666 M1363,675 L1341,679 M1354,689 L1332,693 M1346,703 L1324,707 M1337,717 L1315,721 M1329,730 L1307,734 M1320,744 L1298,748 M1311,758 L1289,762 M1303,771 L1281,775 M1294,785 L1272,789 M1286,799 L1264,803 M1277,813 L1255,817 M1269,826 L1247,830"/>
  <!-- volcanoes -->
  <g fill="#b8c8a0" stroke="#222" stroke-width="4">
    <path d="M460,360 L500,300 L540,370 Z"/><path d="M400,470 L440,410 L480,480 Z"/><path d="M340,590 L380,530 L420,600 Z"/>
    <path d="M280,720 L330,650 L360,720 Z"/><path d="M210,800 L240,760 L290,800 Z"/><path d="M130,930 L160,880 L200,940 Z"/>
    <path d="M1640,400 L1680,340 L1720,410 Z"/><path d="M1540,500 L1580,450 L1620,520 Z"/><path d="M1480,620 L1520,560 L1560,630 Z"/>
    <path d="M1400,700 L1440,640 L1500,710 Z"/><path d="M1360,800 L1400,760 L1440,810 Z"/><path d="M1320,860 L1360,820 L1410,860 Z"/>
  </g>
  <g fill="#cfcfcf">
    <path d="M430,250 C420,210 470,200 490,215 C520,200 540,240 520,270 C520,300 470,300 450,285 C420,280 420,260 430,250 Z"/>
    <path d="M80,800 C70,760 140,740 170,760 C210,750 220,800 200,830 C200,880 140,880 110,860 C80,850 70,820 80,800 Z"/>
    <path d="M1520,360 C1520,320 1590,320 1620,340 C1660,330 1660,390 1630,420 C1620,460 1560,450 1540,430 C1510,420 1510,380 1520,360 Z"/>
    <path d="M1410,540 C1420,490 1480,480 1510,500 C1540,500 1540,560 1520,590 C1510,640 1460,640 1440,620 C1410,600 1400,570 1410,540 Z"/>
  </g>
  <!-- magma plumes -->
  <g fill="#f08cc0" stroke="#222" stroke-width="3">
    <path d="M140,980 C130,940 200,930 210,970 L200,1050 L180,1070 L160,1060 Z"/>
    <path d="M1320,900 C1320,860 1400,860 1410,900 L1390,1050 L1370,1060 L1340,1050 Z"/>
    <path d="M750,830 C750,800 790,800 790,830 L780,960 L770,975 L760,960 Z"/>
  </g>
  <!-- convection -->
  <g fill="none" stroke="#f0a090" stroke-width="8" opacity="0.9">
    <path d="M730,960 C600,920 450,930 360,1000 C300,1040 290,1100 295,1180 C300,1260 330,1290 450,1280 C600,1270 720,1250 750,1180 C760,1100 760,1020 730,960"/>
    <path d="M810,960 C950,910 1100,920 1200,990 C1260,1030 1270,1100 1265,1180 C1260,1260 1220,1290 1100,1280 C950,1270 830,1250 800,1180 C790,1100 790,1020 810,960"/>
  </g>
  <g fill="#fff" stroke="#333" stroke-width="3">
    <path d="M600,620 L640,590 L640,605 L670,605 L670,635 L640,635 L640,650 Z"/>
    <path d="M1180,660 L1140,630 L1140,645 L1105,645 L1105,675 L1140,675 L1140,690 Z"/>
    <path d="M730,380 L760,360 L760,370 L785,370 L785,390 L760,390 L760,400 Z"/>
    <path d="M1055,370 L1025,350 L1025,360 L1000,360 L1000,380 L1025,380 L1025,390 Z"/>
    <path d="M640,875 L670,855 L670,865 L700,865 L700,885 L670,885 L670,895 Z"/>
    <path d="M900,875 L870,855 L870,865 L840,865 L840,885 L870,885 L870,895 Z"/>
  </g>
  <path fill="none" stroke="#3a3af0" stroke-width="4" d="M60,930 L60,935 L130,860 L400,360 L640,300 L960,205 L1300,240 L1590,290"/>
  <path fill="none" stroke="#3a3af0" stroke-width="4" d="M60,930 C300,880 600,790 780,780 C1000,800 1100,840 1240,850"/>
  <g stroke="#111" stroke-width="4" fill="none">
    <path d="M610,220 L635,320"/><path d="M945,165 L965,235"/><path d="M1640,200 L1700,350"/>
    <path d="M1430,400 L1475,465"/><path d="M1180,465 L1185,520"/>
  </g>
  <g fill="#111" font-family="Liberation Mono" font-size="36">
    <text x="555" y="158" textLength="135" lengthAdjust="spacingAndGlyphs">Zone de</text>
    <text x="555" y="200" textLength="185" lengthAdjust="spacingAndGlyphs">subduction</text>
    <text x="905" y="98" textLength="55" lengthAdjust="spacingAndGlyphs">Rift</text>
    <text x="905" y="140" textLength="165" lengthAdjust="spacingAndGlyphs">océanique</text>
    <text x="1540" y="185" textLength="160" lengthAdjust="spacingAndGlyphs">Continent</text>
    <text x="1295" y="325" textLength="135" lengthAdjust="spacingAndGlyphs">Zone de</text>
    <text x="1295" y="368" textLength="183" lengthAdjust="spacingAndGlyphs">subduction</text>
    <text x="1075" y="400" textLength="90" lengthAdjust="spacingAndGlyphs">Faille</text>
    <text x="1075" y="445" textLength="235" lengthAdjust="spacingAndGlyphs">transformante</text>
  </g>
</g>
<!-- title 4 -->
<circle cx="489" cy="1123.6" r="14" fill="#5aa832"/>
<circle cx="489" cy="1123.6" r="14" fill="none" stroke="#3a7a1a" stroke-width="1.2"/>
<ellipse cx="486" cy="1117" rx="8" ry="5" fill="#b8e090" opacity="0.7"/>
<text x="482" y="1131.5" font-size="22" fill="#fff" font-family="Liberation Serif" font-weight="bold">4</text>
<text class="b" x="508.4" y="1108.5" font-size="17" fill="#0000cc" textLength="263" lengthAdjust="spacingAndGlyphs" stroke="#0000cc" stroke-width="0.55">LA LITHOSPHERE GLISSE SUR</text>
<text class="b" x="508.4" y="1129.4" font-size="17" fill="#0000cc" textLength="296" lengthAdjust="spacingAndGlyphs" stroke="#0000cc" stroke-width="0.55">L'ASTHENOSPHERE: TECTONIQUE</text>
<text class="b" x="508.4" y="1149" font-size="17" fill="#0000cc" textLength="121" lengthAdjust="spacingAndGlyphs" stroke="#0000cc" stroke-width="0.55">DES PLAQUES</text>

<!-- ===== pink boxes ===== -->
<rect x="299" y="138" width="386" height="344" rx="9" fill="#fff" stroke="#cc93c4" stroke-width="4"/>
<g transform="translate(290,130) scale(0.20623)">
  <g stroke-linejoin="round">
    <!-- asthenosphere -->
    <path fill="#f5844e" stroke="#4d4a40" stroke-width="5" d="M85,1030 L85,1418 L1865,1418 L1865,1070 L1210,1070 L1420,1418 L1110,1418 C1000,1250 950,1100 860,1060 C820,1040 780,1030 720,1030 Z"/>
    <!-- lithosphere -->
    <path fill="#c7bca3" d="M85,770 L85,1030 L720,1030 C780,1030 820,1040 860,1060 C950,1100 1000,1250 1110,1418 L1420,1418 L1210,1070 L1865,1070 L1865,790 L1300,790 L1250,810 L1100,800 L1000,740 L820,720 Z"/>
    <!-- oceanic crust band + slab -->
    <path fill="#8e8570" stroke="#3d3a33" stroke-width="5" d="M85,715 L820,715 C900,720 980,740 1040,800 C1080,850 1200,1050 1420,1418 L1365,1418 C1160,1060 1040,870 990,820 C940,780 880,770 820,770 L85,770 Z"/>
    <!-- continental crust -->
    <path fill="#8e8570" stroke="#3d3a33" stroke-width="4" d="M820,715 C880,680 960,640 1000,620 C1100,560 1200,560 1300,580 C1500,620 1700,630 1865,560 L1865,790 L1300,790 C1270,800 1240,815 1200,810 C1120,805 1060,790 1000,740 C950,720 900,715 820,715 Z"/>
    <!-- continent top -->
    <path fill="#dcc196" stroke="#3d3a33" stroke-width="4" d="M940,640 L1000,500 L1060,360 L1100,260 L1150,172 L1260,90 L1400,80 L1500,110 L1810,100 L1865,560 C1700,630 1500,620 1300,580 C1200,560 1100,560 1000,620 Z"/>
    <!-- ocean -->
    <path fill="#7fcdf0" stroke="#3a9ac8" stroke-width="5" d="M85,665 L590,172 L1150,172 L1100,300 L1040,420 L970,580 L940,640 L820,715 L85,715 Z"/>
    <path fill="#6cbfe6" d="M85,665 L590,172 L620,172 L120,680 L85,715 Z"/>
    <path fill="#66b8e0" d="M85,680 L820,680 L820,715 L85,715 Z"/>
  </g>
  <g stroke="#555" stroke-width="4" fill="none" opacity="0.7">
    <path d="M620,250 L700,250 M700,300 L800,300 M600,350 L700,350 M800,250 L900,250 M380,420 L480,420 M650,480 L760,480 M300,560 L400,560 M850,400 L930,400 M540,560 L620,560 M700,620 L780,620"/>
  </g>
  <!-- mountains -->
  <g fill="#a9957a" stroke="#333" stroke-width="4">
    <path d="M1170,330 L1260,270 L1300,300 L1360,240 L1420,330 Z"/>
    <path d="M1240,240 L1300,170 L1340,200 L1400,150 L1450,220 Z"/>
    <path d="M1300,130 L1370,90 L1420,110 L1480,80 L1520,120 Z"/>
    <path d="M1220,450 L1290,390 L1340,420 L1390,380 L1430,450 Z"/>
    <path d="M1250,560 L1320,470 L1370,510 L1420,500 L1460,560 Z"/>
    <path d="M1080,600 C1100,540 1200,540 1220,600 Z" fill="#9c6f55"/>
  </g>
  <path d="M1120,450 C1080,380 1130,360 1160,370 C1190,360 1220,400 1200,450 C1180,480 1140,480 1120,450 Z" fill="#eee" stroke="#777" stroke-width="3"/>
  <path d="M1260,170 C1240,130 1270,110 1300,120 C1320,140 1320,170 1300,180 Z" fill="#eee" stroke="#777" stroke-width="3"/>
  <path d="M1140,480 L1150,680" stroke="#e83040" stroke-width="10"/>
  <ellipse cx="1150" cy="695" rx="40" ry="22" fill="#e83040"/>
  <g fill="#e86070" opacity="0.8">
    <rect x="1090" y="730" width="8" height="30"/><rect x="1130" y="760" width="8" height="30"/><rect x="1180" y="740" width="8" height="30"/>
    <rect x="1100" y="820" width="8" height="30"/><rect x="1150" y="860" width="8" height="30"/><rect x="1200" y="900" width="8" height="30"/>
    <rect x="1160" y="950" width="8" height="30"/><rect x="1190" y="1000" width="8" height="30"/>
  </g>
  <!-- arrows -->
  <g fill="#fff">
    <path d="M555,920 L620,920 L620,900 L665,940 L620,980 L620,960 L555,960 Z"/>
    <path d="M1415,920 L1350,920 L1350,900 L1305,940 L1350,980 L1350,960 L1415,960 Z"/>
    <path d="M1045,1170 L1070,1140 L1110,1210 L1125,1195 L1135,1260 L1075,1240 L1090,1225 Z"/>
  </g>
  <g fill="#222" font-weight="bold">
    <text x="230" y="655" font-size="64" textLength="490" lengthAdjust="spacingAndGlyphs">Croûte océanique</text>
    <text x="1265" y="725" font-size="64" textLength="550" lengthAdjust="spacingAndGlyphs">Croûte continentale</text>
    <text x="150" y="950" font-size="64" textLength="325" lengthAdjust="spacingAndGlyphs">Lithosphère</text>
    <text x="1480" y="950" font-size="64" textLength="325" lengthAdjust="spacingAndGlyphs">Lithosphère</text>
    <text x="250" y="1265" font-size="64" textLength="415" lengthAdjust="spacingAndGlyphs">Asthénosphère</text>
    <text transform="translate(1505,405) rotate(-80)" font-size="64" textLength="135" lengthAdjust="spacingAndGlyphs">Arc</text>
    <text transform="translate(1590,552) rotate(-80)" font-size="64" textLength="395" lengthAdjust="spacingAndGlyphs">volcanique</text>
    <text x="228" y="1520" font-size="96" textLength="1487" lengthAdjust="spacingAndGlyphs">Subduction océanique - continentale</text>
    <text x="220" y="1645" font-size="82" textLength="1520" lengthAdjust="spacingAndGlyphs">formation de la cordillère des andes</text>
  </g>
</g>

<rect x="722" y="296" width="376" height="314" rx="9" fill="#fff" stroke="#cc93c4" stroke-width="4"/>
<g transform="translate(715,290) scale(0.18904)">
  <rect x="75" y="680" width="1910" height="705" fill="#c7bca3"/>
  <g stroke-linejoin="round">
    <path fill="#f5844e" stroke="#4d4a40" stroke-width="5" d="M75,995 L570,995 C620,1010 680,1060 720,1120 L880,1385 L75,1385 Z"/>
    <path fill="#f5844e" stroke="#4d4a40" stroke-width="5" d="M930,990 C960,960 990,935 1020,935 C1200,950 1400,1000 1600,1060 C1750,1090 1900,1080 1985,1040 L1985,1385 L1215,1385 Z"/>
    <path fill="#c7bca3" d="M75,735 L400,735 C500,745 600,770 650,800 L720,860 L880,1000 L1165,1385 L880,1385 L720,1120 C680,1060 620,1010 570,995 L75,995 Z"/>
    <path fill="#c7bca3" d="M760,715 L1500,700 L1600,760 L1985,790 L1985,1040 C1900,1080 1750,1090 1600,1060 C1400,1000 1200,950 1020,935 C990,935 960,960 930,990 L760,780 Z"/>
    <path fill="#8e8570" stroke="#3d3a33" stroke-width="5" d="M75,680 L500,680 C560,690 600,705 640,730 C700,770 760,820 820,900 C900,1000 1050,1200 1215,1385 L1165,1385 C1020,1200 880,1010 800,920 C740,860 680,800 620,780 C540,750 460,735 400,735 L75,735 Z"/>
    <path fill="#8e8570" stroke="#3d3a33" stroke-width="5" d="M600,715 L620,680 L1490,678 C1540,700 1580,740 1600,760 L1500,705 L640,712 Z"/>
    <path fill="#8e8570" stroke="#3d3a33" stroke-width="5" d="M1470,680 C1520,640 1580,600 1640,580 C1800,540 1900,540 1985,545 L1985,790 C1900,800 1700,780 1600,760 C1550,730 1510,700 1470,680 Z"/>
    <path fill="#dcc196" stroke="#3d3a33" stroke-width="4" d="M1640,118 L1920,80 L1985,545 C1900,540 1800,540 1640,580 L1600,590 L1610,400 Z"/>
    <path fill="#82cff0" stroke="#3a9ac8" stroke-width="5" d="M75,625 L620,125 L1640,118 L1610,400 L1600,590 C1560,610 1520,640 1470,680 L620,680 L600,715 L75,680 Z"/>
    <path fill="#6ab8e0" d="M75,625 L1480,625 L1470,680 L620,680 L600,712 L75,680 Z"/>
    <path fill="none" stroke="#3a9ac8" stroke-width="5" d="M75,625 L1480,625"/>
    <path fill="none" stroke="#2a88b8" stroke-width="4" d="M1590,130 L1560,260 L1530,400 L1500,520 L1490,640"/>
  </g>
  <g stroke="#3b8cbc" stroke-width="4" fill="none" opacity="0.6">
    <path d="M700,220 L780,220 M900,250 L1000,250 M600,320 L700,320 M800,350 L880,350 M1300,300 L1400,300 M400,450 L500,450 M700,480 L800,480 M1250,450 L1350,450 M900,550 L980,550 M1100,560 L1200,560 M300,560 L380,560 M1350,200 L1430,200"/>
  </g>
  <path d="M870,670 L925,610 L985,670 Z" fill="#c07050" stroke="#333" stroke-width="4"/>
  <path d="M870,540 C850,480 900,450 930,470 C970,450 1000,500 985,560 C970,600 900,610 870,540 Z" fill="#eee" stroke="#888" stroke-width="3"/>
  <path d="M925,620 L925,720" stroke="#e83040" stroke-width="8"/>
  <g fill="#e86070" opacity="0.7">
    <rect x="860" y="760" width="8" height="40"/><rect x="900" y="800" width="8" height="40"/><rect x="940" y="760" width="8" height="40"/><rect x="975" y="820" width="8" height="40"/>
    <rect x="870" y="860" width="8" height="40"/><rect x="920" y="880" width="8" height="40"/><rect x="960" y="900" width="8" height="40"/>
  </g>
  <path d="M1020,420 C1080,370 1140,330 1180,300 C1210,280 1220,300 1200,330 C1160,390 1120,430 1080,450 C1050,440 1030,430 1020,420 Z" fill="#dcc196" stroke="#555" stroke-width="4"/>
  <path d="M1210,230 L1240,190 L1280,230 Z" fill="#a58060" stroke="#333" stroke-width="3"/>
  <path d="M1220,160 C1200,120 1240,100 1260,110 C1290,110 1300,150 1280,170 C1260,180 1230,180 1220,160 Z" fill="#ccc" stroke="#888" stroke-width="3"/>
  <g fill="#fff">
    <path d="M575,890 L630,905 L635,880 L690,930 L625,950 L630,925 L570,910 Z"/>
    <path d="M1440,870 L1380,860 L1385,840 L1325,865 L1375,895 L1378,880 L1435,890 Z"/>
    <path d="M820,1140 L845,1120 L885,1180 L900,1165 L915,1235 L855,1215 L870,1200 Z"/>
  </g>
  <g fill="#222" font-weight="bold">
    <text x="215" y="595" font-size="66" textLength="525" lengthAdjust="spacingAndGlyphs">Croûte océanique</text>
    <text x="1690" y="645" font-size="66" textLength="195" lengthAdjust="spacingAndGlyphs">Croûte</text>
    <text x="1610" y="735" font-size="66" textLength="365" lengthAdjust="spacingAndGlyphs">continentale</text>
    <text x="120" y="890" font-size="66" textLength="350" lengthAdjust="spacingAndGlyphs">Lithosphère</text>
    <text x="1565" y="940" font-size="66" textLength="345" lengthAdjust="spacingAndGlyphs">Lithosphère</text>
    <text x="120" y="1225" font-size="66" textLength="445" lengthAdjust="spacingAndGlyphs">Asthénosphère</text>
    <text transform="translate(1255,420) rotate(-75)" font-size="60" textLength="90" lengthAdjust="spacingAndGlyphs">île</text>
    <text x="285" y="1485" font-size="108" textLength="1495" lengthAdjust="spacingAndGlyphs">Subduction océanique - océanique</text>
    <text x="450" y="1625" font-size="92" textLength="1160" lengthAdjust="spacingAndGlyphs">formation des iles hawaii</text>
  </g>
</g>

<rect x="59" y="516.5" width="316" height="486" rx="9" fill="#fff" stroke="#cc93c4" stroke-width="4"/>
<g transform="translate(50,510) scale(0.28637)">
  <g stroke="#3a2a1a" stroke-width="4" stroke-linejoin="round">
    <!-- top block -->
    <path fill="#f8bb2a" d="M70,860 L580,745 L700,680 L760,650 L880,600 L1090,475 L1090,720 L700,780 L500,870 L350,900 L70,940 Z"/>
    <path fill="#cf5f22" d="M445,320 L470,290 L760,140 L1090,425 L1090,475 L880,600 L760,640 L700,600 L600,500 L520,380 Z"/>
    <path fill="#c0541c" d="M760,640 L880,600 L1090,475 L1090,430 L900,540 Z"/>
    <path fill="#cfeaf6" d="M300,415 L445,335 L520,380 L600,500 L760,640 L580,740 L500,660 L400,520 Z"/>
    <path fill="#cf5f22" d="M70,830 L130,680 L180,570 L190,500 L170,480 L175,450 L200,430 L270,420 L340,430 L380,480 L400,520 L500,660 L580,742 L500,770 L300,800 L200,815 L70,860 Z"/>
    <path fill="#b9521c" d="M70,830 L200,800 L400,770 L560,740 L580,758 L400,800 L200,840 L70,865 Z"/>
    <path fill="none" stroke="#1a3a8a" stroke-width="22" d="M580,748 C650,700 700,670 760,660 L1090,645"/>
    <!-- bottom block -->
    <path fill="#f8bb2a" d="M190,1560 L300,1500 L500,1460 L700,1440 L900,1450 L900,1420 L1100,1290 L1100,1630 L900,1570 L700,1550 L450,1600 L190,1690 Z"/>
    <path fill="#cf5f22" d="M520,1020 L800,910 L1100,1220 L1100,1290 L900,1420 L750,1310 L600,1150 Z"/>
    <path fill="#cf5f22" d="M190,1560 L210,1380 L230,1280 L270,1200 L280,1150 L330,1100 L360,1080 L440,1030 L520,1020 L600,1150 L750,1310 L900,1420 L1100,1480 L1100,1500 L900,1450 L700,1440 L500,1460 L300,1500 Z"/>
    <path fill="none" stroke="#1a3a8a" stroke-width="18" d="M720,1330 C780,1370 850,1400 900,1415 L1100,1485"/>
    <path fill="none" stroke="#1a3a8a" stroke-width="10" d="M430,1040 L600,1130"/>
  </g>
  <g fill="none" stroke="#3a2a1a" stroke-width="4">
    <path d="M520,330 L720,560 M560,420 L700,600 M640,460 L720,540"/>
    <path d="M350,1090 C450,1100 550,1200 650,1330 C700,1400 800,1430 900,1440"/>
    <path d="M360,1150 C470,1150 560,1260 640,1370"/>
    <path d="M550,1060 C650,1100 750,1250 850,1380"/>
  </g>
  <path d="M190,730 L340,650" stroke="#e8281a" stroke-width="14"/>
  <path d="M370,635 L320,640 L345,680 Z" fill="#e8281a"/>
  <path d="M385,1360 L495,1300" stroke="#e8281a" stroke-width="14"/>
  <path d="M525,1285 L475,1290 L500,1330 Z" fill="#e8281a"/>
  <path d="M680,760 L720,820 L725,830" stroke="#222" stroke-width="3" fill="none"/>
  <path d="M470,990 L520,990 L525,1075" stroke="#222" stroke-width="3" fill="none"/>
  <rect x="600" y="1120" width="60" height="215" fill="#fff" stroke="#222" stroke-width="3" transform="rotate(-27 630 1227)"/>
  <g fill="#222">
    <text class="b" x="75" y="100" font-size="56" textLength="1015" lengthAdjust="spacingAndGlyphs">subduction continentale-continentale</text>
    <text class="b" x="930" y="190" font-size="36" textLength="120" lengthAdjust="spacingAndGlyphs">- 60 Ma</text>
    <text class="b" x="945" y="968" font-size="36" textLength="120" lengthAdjust="spacingAndGlyphs">- 23 Ma</text>
    <text x="740" y="860" font-size="40" textLength="280" lengthAdjust="spacingAndGlyphs">croûte océanique</text>
    <text class="b" x="235" y="870" font-size="40" textLength="300" lengthAdjust="spacingAndGlyphs">manteau supérieur</text>
    <text x="250" y="950" font-size="40" textLength="240" lengthAdjust="spacingAndGlyphs">ligne de suture</text>
    <text x="250" y="995" font-size="40" textLength="225" lengthAdjust="spacingAndGlyphs">entre les deux</text>
    <text x="250" y="1040" font-size="40" textLength="165" lengthAdjust="spacingAndGlyphs">continents</text>
    <text class="b" x="410" y="1660" font-size="48" textLength="550" lengthAdjust="spacingAndGlyphs">Formation de l'Himalaya</text>
    <text transform="translate(740,350) rotate(50)" font-size="38" class="b">Asie</text>
    <text transform="translate(490,510) rotate(50)" font-size="38">océan</text>
    <text transform="translate(405,690) rotate(50)" font-size="38" class="b">Inde</text>
    <text transform="translate(840,1100) rotate(50)" font-size="38" class="b">Asie</text>
    <text transform="translate(590,1170) rotate(63)" font-size="40">Himalaya</text>
    <text transform="translate(565,1340) rotate(50)" font-size="38" class="b">Inde</text>
    <text transform="translate(800,630) rotate(-28)" font-size="38" fill="#fce0b0">croûte continentale</text>
    <text transform="translate(210,820) rotate(-10)" font-size="38" fill="#6a2a0a">croûte continentale</text>
  </g>
</g>

<rect x="18.5" y="1175" width="422" height="429" rx="9" fill="#fff" stroke="#cc93c4" stroke-width="4"/>
<g transform="translate(10,1165) scale(0.25773)">
  <g stroke="#2a1a0a" stroke-width="4" stroke-linejoin="round">
    <path fill="#f8bb2a" d="M200,555 C400,545 600,520 760,470 C820,450 860,440 900,445 C1000,470 1150,540 1515,565 L1515,840 L200,840 Z"/>
    <path fill="#cf5f22" d="M200,425 L580,370 L610,390 L720,380 L780,410 L880,440 L960,420 L1020,390 L1110,400 L1150,380 L1515,430 L1515,565 C1150,540 1000,470 900,445 C860,440 820,450 760,470 C600,520 400,545 200,555 Z"/>
    <path fill="#d2632a" d="M200,425 L440,215 L690,180 L770,215 L830,240 L850,265 L915,265 L950,240 L1000,215 L1060,165 L1340,200 L1515,430 L1150,380 L1110,400 L1020,390 L960,420 L880,440 L780,410 L720,380 L610,390 L580,370 Z"/>
    <path fill="#7a3416" d="M580,370 L690,180 L700,225 L610,390 Z"/>
    <path fill="#7a3416" d="M705,380 L770,215 L785,240 L725,385 Z"/>
    <path fill="#7a3416" d="M770,405 L830,240 L845,262 L790,415 Z"/>
    <path fill="#7a3416" d="M920,255 L950,240 L962,415 L940,405 Z"/>
    <path fill="#7a3416" d="M975,215 L1000,215 L1030,390 L1010,390 Z"/>
    <path fill="#7a3416" d="M1045,175 L1060,165 L1150,385 L1120,395 Z"/>
    <!-- bottom -->
    <path fill="#f8bb2a" d="M200,1285 C400,1270 600,1240 720,1205 L850,1195 L990,1205 C1100,1230 1300,1255 1515,1265 L1515,1595 L200,1595 Z"/>
    <path fill="#cf5f22" d="M200,1160 L450,1110 L700,1170 L740,1200 L850,1200 L1000,1190 L1150,1140 L1240,1110 L1515,1145 L1515,1265 C1300,1255 1100,1230 990,1205 L850,1195 L720,1205 C600,1240 400,1270 200,1285 Z"/>
    <path fill="#d2632a" d="M200,1160 L370,945 L545,940 L570,975 L620,970 L660,1010 L700,1060 L760,1045 L850,1055 L960,1045 L1000,1040 L1060,985 L1150,945 L1300,940 L1515,1145 L1240,1110 L1150,1140 L1000,1190 L850,1200 L740,1200 L700,1170 L450,1110 Z"/>
    <path fill="#7a3416" d="M450,1110 L545,940 L570,975 L480,1130 Z"/>
    <path fill="#7a3416" d="M560,1150 L620,970 L640,990 L585,1160 Z"/>
    <path fill="#7a3416" d="M640,1165 L680,1010 L700,1060 L660,1170 Z"/>
    <path fill="#7a3416" d="M1010,1150 L1060,985 L1080,1000 L1040,1160 Z"/>
    <path fill="#7a3416" d="M1080,1135 L1130,975 L1150,990 L1110,1145 Z"/>
    <path fill="#7a3416" d="M1170,945 L1270,1120 L1240,1110 L1150,950 Z"/>
    <path fill="#3a7bef" d="M750,1048 L850,1052 L848,1175 L735,1180 Z"/>
    <path fill="#1a55c8" d="M735,1180 L848,1175 L845,1205 L725,1205 Z"/>
    <path fill="#3a7bef" d="M868,1052 L960,1045 L975,1180 L868,1175 Z"/>
    <path fill="#1a55c8" d="M868,1175 L975,1180 L990,1205 L870,1200 Z"/>
  </g>
  <path d="M858,1050 L858,1195" stroke="#e82020" stroke-width="14"/>
  <g fill="none" stroke="#222" stroke-width="4">
    <path d="M65,55 L835,55 L880,130"/>
    <path d="M690,160 L705,140 L1045,140 L1060,160"/>
    <path d="M1150,390 L1590,390"/>
    <path d="M1525,497 L1590,497 M1525,685 L1590,685"/>
    <path d="M65,915 L740,915 L850,1045"/>
    <path d="M980,1190 L1590,1190"/>
  </g>
  <g fill="#e82020">
    <path d="M180,565 L120,565 L120,540 L70,577 L120,615 L120,590 L180,590 Z"/>
    <path d="M1535,565 L1595,565 L1595,540 L1645,577 L1595,615 L1595,590 L1535,590 Z"/>
    <path d="M180,1295 L120,1295 L120,1270 L70,1307 L120,1345 L120,1320 L180,1320 Z"/>
    <path d="M1535,1295 L1595,1295 L1595,1270 L1645,1307 L1595,1345 L1595,1320 L1535,1320 Z"/>
  </g>
  <text x="250" y="1670" font-size="86" fill="#222" textLength="1210" lengthAdjust="spacingAndGlyphs">1. Ouverture et expansion d'un océan</text>
</g>

<rect x="729" y="1329" width="411" height="350" rx="6" fill="#fff" stroke="#6cb77a" stroke-width="1.2"/>
<g transform="translate(720,1320) scale(0.21191)">
  <g fill="none" stroke="#5fe57c" stroke-width="48">
    <path d="M1085,268 A655,655 0 0 1 1677,1000"/>
    <path d="M1677,1000 A655,655 0 0 1 1040,1577"/>
    <path d="M1055,268 A655,655 0 0 0 640,400"/>
    <path d="M455,845 A655,655 0 0 0 375,1060"/>
    <path d="M380,1080 A655,655 0 0 0 590,1400"/>
  </g>
  <g fill="none" stroke="#fff" stroke-width="6">
    <path d="M1070,240 L1070,300"/>
    <path d="M340,1075 L410,1065"/>
    <path d="M1620,1115 L1700,1130"/>
  </g>
  <path d="M560,1380 C600,1410 650,1420 730,1395" fill="none" stroke="#5fe57c" stroke-width="48" stroke-linecap="round"/>
  <path d="M620,1465 C760,1560 900,1590 1020,1600" fill="none" stroke="#5fe57c" stroke-width="48"/>
  <path d="M975,1480 C990,1530 1020,1570 1060,1590" fill="none" stroke="#5fe57c" stroke-width="48" stroke-linecap="round"/>
  <path fill="#6fdc8a" stroke="#222" stroke-width="5" d="M320,770 C350,700 390,660 400,600 C430,540 470,520 500,480 C540,440 560,410 590,400 L630,430 L630,470 L600,520 C540,560 500,600 490,640 C470,700 460,760 440,800 C420,830 380,830 350,810 Z"/>
  <path fill="#6fdc8a" stroke="#222" stroke-width="5" d="M1400,400 L1440,390 C1500,420 1560,470 1600,540 C1640,600 1680,660 1700,720 L1710,820 L1690,880 L1650,870 C1640,800 1600,720 1560,650 C1520,580 1460,520 1420,460 Z"/>
  <g fill="#222">
    <text transform="translate(400,780) rotate(-58)" font-size="62" letter-spacing="6">Amérique</text>
    <text transform="translate(1530,520) rotate(58)" font-size="62" letter-spacing="6">Afrique</text>
    <text x="520" y="145" font-size="62" textLength="185" lengthAdjust="spacingAndGlyphs">Croûte</text>
    <text x="520" y="220" font-size="62" textLength="290" lengthAdjust="spacingAndGlyphs">océanique</text>
    <text x="120" y="375" font-size="62" textLength="190" lengthAdjust="spacingAndGlyphs">Croûte</text>
    <text x="120" y="455" font-size="62" textLength="340" lengthAdjust="spacingAndGlyphs">continentale</text>
    <text x="930" y="475" font-size="62" textLength="215" lengthAdjust="spacingAndGlyphs">Dorsale</text>
    <text x="930" y="550" font-size="62" textLength="290" lengthAdjust="spacingAndGlyphs">océanique</text>
    <text x="520" y="875" font-size="62" textLength="230" lengthAdjust="spacingAndGlyphs">Zone de</text>
    <text x="520" y="955" font-size="62" textLength="305" lengthAdjust="spacingAndGlyphs">subduction</text>
    <text x="555" y="1090" font-size="62" textLength="220" lengthAdjust="spacingAndGlyphs">Dorsale</text>
    <text x="555" y="1165" font-size="62" textLength="295" lengthAdjust="spacingAndGlyphs">océanique</text>
    <text x="1290" y="985" font-size="62" textLength="215" lengthAdjust="spacingAndGlyphs">Dorsale</text>
    <text x="1290" y="1060" font-size="62" textLength="290" lengthAdjust="spacingAndGlyphs">océanique</text>
    <text x="785" y="1325" font-size="62" textLength="260" lengthAdjust="spacingAndGlyphs">Zones de</text>
    <text x="785" y="1400" font-size="62" textLength="305" lengthAdjust="spacingAndGlyphs">subduction</text>
  </g>
  <g fill="none" stroke="#222" stroke-width="4">
    <path d="M880,205 C960,190 1160,190 1265,222"/>
    <path d="M1060,430 L1068,310"/>
    <path d="M290,890 C300,1020 330,1160 375,1270"/>
    <path d="M465,890 C470,850 500,820 545,805"/>
    <path d="M550,1030 L425,1062"/>
    <path d="M1760,960 C1740,1100 1700,1230 1635,1330"/>
    <path d="M1495,1075 L1615,1110"/>
    <path d="M560,1340 C590,1390 640,1390 700,1380"/>
    <path d="M1150,1540 C1090,1550 1050,1530 1015,1475"/>
  </g>
  <g fill="#222">
    <path d="M875,207 L915,192 L912,222 Z"/>
    <path d="M1270,224 L1230,205 L1228,235 Z"/>
    <path d="M1068,305 L1058,345 L1080,345 Z"/>
    <path d="M290,885 L280,925 L302,922 Z"/>
    <path d="M378,1275 L362,1238 L386,1236 Z"/>
    <path d="M550,802 L515,810 L530,830 Z"/>
    <path d="M420,1063 L455,1045 L458,1070 Z"/>
    <path d="M1762,955 L1748,995 L1772,995 Z"/>
    <path d="M1632,1335 L1640,1295 L1660,1305 Z"/>
    <path d="M1618,1112 L1580,1095 L1575,1120 Z"/>
    <path d="M702,1380 L665,1370 L668,1392 Z"/>
    <path d="M1012,1470 L1022,1508 L1042,1495 Z"/>
  </g>
</g>

<rect x="1749.5" y="793" width="436" height="300" fill="#fff" stroke="#087a08" stroke-width="4.5"/>
<g transform="translate(1720,780) scale(0.22857)">
  <ellipse cx="1085" cy="730" rx="520" ry="312" fill="#ddd" opacity="0.6"/>
  <ellipse cx="1070" cy="710" rx="515" ry="310" fill="#dfeef2" stroke="#555" stroke-width="6"/>
  <clipPath id="gclip"><ellipse cx="1070" cy="710" rx="515" ry="310"/></clipPath>
  <g stroke="none" opacity="0.9" clip-path="url(#gclip)">
    <path fill="#c2dcf2" d="M560,700 C560,560 650,470 760,440 L780,700 L760,950 C650,920 560,840 560,700 Z"/>
    <path fill="#d8eee8" d="M760,440 C850,410 950,400 1000,400 L990,560 L900,640 L780,650 Z"/>
    <path fill="#eef2c8" d="M1000,400 C1200,410 1400,460 1480,520 L1440,640 L1300,640 L1100,560 L1000,580 Z"/>
    <path fill="#d8c0ec" d="M950,590 L1100,570 L1260,640 L1250,760 L1150,850 L1060,860 L1000,760 L960,660 Z"/>
    <path fill="#cfd6f2" d="M1260,640 L1440,640 L1580,700 L1550,820 L1400,900 L1260,820 Z"/>
    <path fill="#e2e2e2" d="M780,650 L900,640 L960,680 L960,860 L880,900 L780,850 Z"/>
    <path fill="#c8eed6" d="M700,900 C800,980 950,1020 1070,1020 C1250,1020 1400,960 1500,880 L1400,860 L1200,900 L1000,900 L800,880 Z"/>
  </g>
  <ellipse cx="1070" cy="710" rx="515" ry="310" fill="none" stroke="#555" stroke-width="6"/>
  <g fill="none" stroke="#888" stroke-width="3" opacity="0.7">
    <ellipse cx="1070" cy="710" rx="360" ry="310"/><ellipse cx="1070" cy="710" rx="180" ry="310"/>
    <line x1="560" y1="710" x2="1585" y2="710"/><line x1="620" y1="560" x2="1520" y2="560"/><line x1="620" y1="860" x2="1520" y2="860"/>
  </g>
  <g stroke="#6a6a6a" stroke-width="4" stroke-linejoin="round" opacity="0.95">
    <path fill="#b9d8f2" d="M290,500 L450,430 L470,520 L490,600 L470,700 L490,800 L410,850 L300,780 L260,650 Z"/>
    <path fill="#cdeae2" d="M620,260 L720,200 L850,140 L1060,115 L1050,200 L970,260 L900,330 L780,370 L740,260 Z"/>
    <path fill="#f2f2b8" d="M550,310 L640,290 L645,325 L590,335 Z"/>
    <path fill="#e6eeb8" d="M490,355 L545,400 L550,430 L510,430 Z"/>
    <path fill="#f0f0b4" d="M1130,260 L1200,180 L1230,135 L1420,140 L1640,270 L1520,280 L1480,380 L1510,430 L1610,460 L1560,480 L1480,470 L1420,360 L1300,300 L1180,280 Z"/>
    <path fill="#f2c8e0" d="M1690,440 L1720,400 L1760,460 L1730,520 Z"/>
    <path fill="#bcd6f2" d="M1720,600 L1800,560 L1870,660 L1880,790 L1810,780 L1720,740 L1770,680 Z"/>
    <path fill="#c8ccf0" d="M1550,960 L1610,860 L1700,900 L1870,930 L1860,1000 L1720,1070 L1690,1100 L1620,1030 Z"/>
    <path fill="#c4ecd2" d="M800,1240 L900,1150 L1000,1180 L1150,1220 L1300,1120 L1420,1200 L1500,1210 L1620,1150 L1560,1260 L1400,1320 L1150,1330 L950,1310 Z"/>
    <path fill="#e6dcc8" d="M330,950 L410,900 L430,960 L450,1080 L380,1060 L340,1030 Z"/>
    <path fill="#dcdcdc" d="M520,1020 L610,990 L700,1050 L710,1140 L730,1250 L630,1260 L560,1220 L530,1100 Z"/>
    <path fill="#c8d8e8" d="M915,1075 L1010,1070 L1000,1088 L930,1088 Z"/>
  </g>
  <g stroke="#666" stroke-width="4" fill="none">
    <path d="M410,580 L610,660"/><path d="M640,320 L840,640"/><path d="M545,420 L770,650"/>
    <path d="M865,265 L920,500"/><path d="M1280,270 L1200,470"/><path d="M1710,460 L1450,640"/>
    <path d="M1760,685 L1520,685"/><path d="M1590,960 L1420,830"/><path d="M400,950 L800,780"/>
    <path d="M640,1070 L900,820"/><path d="M970,1080 L965,900"/><path d="M1185,1225 L1150,950"/>
  </g>
  <g fill="#333" font-size="50">
    <text x="400" y="180" textLength="155" lengthAdjust="spacingAndGlyphs">Plaque</text>
    <text x="345" y="235" textLength="260" lengthAdjust="spacingAndGlyphs">Caribéenne</text>
    <text x="805" y="140" textLength="155" lengthAdjust="spacingAndGlyphs">Plaque</text>
    <text x="695" y="195" textLength="375" lengthAdjust="spacingAndGlyphs">Nord-Américaine</text>
    <text x="1435" y="140" textLength="155" lengthAdjust="spacingAndGlyphs">Plaque</text>
    <text x="1385" y="195" textLength="255" lengthAdjust="spacingAndGlyphs">Eurasienne</text>
    <text x="285" y="335" textLength="155" lengthAdjust="spacingAndGlyphs">Plaque</text>
    <text x="255" y="390" textLength="215" lengthAdjust="spacingAndGlyphs">de Cocos</text>
    <text x="1700" y="325" textLength="250" lengthAdjust="spacingAndGlyphs">Plaque des</text>
    <text x="1700" y="380" textLength="248" lengthAdjust="spacingAndGlyphs">Philippines</text>
    <text x="235" y="650" textLength="155" lengthAdjust="spacingAndGlyphs">Plaque</text>
    <text x="205" y="705" textLength="210" lengthAdjust="spacingAndGlyphs">Pacifique</text>
    <text x="1820" y="670" textLength="155" lengthAdjust="spacingAndGlyphs">Plaque</text>
    <text x="1795" y="725" textLength="210" lengthAdjust="spacingAndGlyphs">Pacifique</text>
    <text x="1055" y="720" textLength="155" lengthAdjust="spacingAndGlyphs">Plaque</text>
    <text x="1040" y="775" textLength="195" lengthAdjust="spacingAndGlyphs">Africaine</text>
    <text x="1665" y="985" textLength="155" lengthAdjust="spacingAndGlyphs">Plaque</text>
    <text x="1600" y="1040" textLength="280" lengthAdjust="spacingAndGlyphs">Australienne</text>
    <text x="200" y="1025" textLength="155" lengthAdjust="spacingAndGlyphs">Plaque</text>
    <text x="170" y="1080" textLength="215" lengthAdjust="spacingAndGlyphs">de Nazca</text>
    <text x="805" y="1125" textLength="310" lengthAdjust="spacingAndGlyphs">Plaque Scotia</text>
    <text x="390" y="1245" textLength="155" lengthAdjust="spacingAndGlyphs">Plaque</text>
    <text x="290" y="1300" textLength="360" lengthAdjust="spacingAndGlyphs">Sud-Américaine</text>
    <text x="945" y="1285" textLength="425" lengthAdjust="spacingAndGlyphs">Plaque Antarctique</text>
  </g>
</g>


<!-- ===== green nodes ===== -->
<rect x="498" y="616.5" width="168" height="64.5" fill="#fff" stroke="#087a08" stroke-width="4.5"/>
<text class="b" x="508" y="643.3" font-size="19" fill="#087a08" textLength="147" lengthAdjust="spacingAndGlyphs" stroke="#087a08" stroke-width="0.55">la convergence</text>
<text class="b" x="508" y="667.7" font-size="19" fill="#087a08" textLength="133" lengthAdjust="spacingAndGlyphs" stroke="#087a08" stroke-width="0.55">ou subduction</text>
<rect x="498" y="1369" width="149" height="40.5" fill="#fff" stroke="#087a08" stroke-width="4.5"/>
<text class="b" x="507.4" y="1395" font-size="19" fill="#087a08" textLength="130" lengthAdjust="spacingAndGlyphs" stroke="#087a08" stroke-width="0.55">la divergence</text>

<g transform="translate(1760,40) scale(0.28066)">
  <g fill="none" stroke="#087a08" stroke-width="16">
    <path d="M70,865 C90,600 120,365 220,365"/>
    <path d="M70,865 C100,930 150,945 220,945"/>
    <path d="M70,865 C90,1100 120,1450 220,1450"/>
  </g>
  <g fill="#fff" stroke="#087a08" stroke-width="16" stroke-linejoin="miter">
    <path d="M235,52 C600,60 870,220 970,365 C870,520 600,670 235,680 Z"/>
    <path d="M235,712 C700,715 1000,850 1110,945 C1000,1080 700,1180 235,1185 Z"/>
    <path d="M235,1215 C700,1220 1030,1350 1145,1450 C1030,1560 700,1680 235,1685 Z"/>
  </g>
  <circle cx="45" cy="865" r="18" fill="#dfe6fb" stroke="#9aaaf0" stroke-width="4"/>
  <g fill="#087a08" font-weight="bold" font-size="64" stroke="#087a08" stroke-width="2">
    <text x="255" y="270" textLength="285" lengthAdjust="spacingAndGlyphs">un tracé</text>
    <text x="250" y="345" textLength="565" lengthAdjust="spacingAndGlyphs">complémentaire</text>
    <text x="250" y="432" textLength="625" lengthAdjust="spacingAndGlyphs">des côtes formant</text>
    <text x="245" y="508" textLength="330" lengthAdjust="spacingAndGlyphs">un puzzle</text>
    <text x="250" y="882" textLength="755" lengthAdjust="spacingAndGlyphs">des roches identiques</text>
    <text x="250" y="965" textLength="450" lengthAdjust="spacingAndGlyphs">sur plusieurs</text>
    <text x="248" y="1050" textLength="365" lengthAdjust="spacingAndGlyphs">continents</text>
    <text x="248" y="1385" textLength="785" lengthAdjust="spacingAndGlyphs">des fossiles identiques</text>
    <text x="248" y="1470" textLength="605" lengthAdjust="spacingAndGlyphs">retrouvés sur des</text>
    <text x="248" y="1550" textLength="655" lengthAdjust="spacingAndGlyphs">continents séparés</text>
  </g>
</g>
<g transform="translate(1590,1420) scale(0.23333)">
  <g fill="none" stroke-width="18">
    <path d="M95,738 C110,500 150,265 270,265" stroke="#087a08"/>
    <path d="M95,738 C130,900 180,1022 270,1022" stroke="#087a08"/>
    <path d="M95,738 L135,560" stroke="#ff00ff" stroke-width="20"/>
    <path d="M1190,270 L1430,283" stroke="#cc93c4"/>
    <path d="M1112,1040 L1275,1050" stroke="#cc93c4"/>
  </g>
  <g fill="#fff" stroke="#087a08" stroke-width="18">
    <path d="M285,65 C750,70 1050,170 1190,268 C1050,380 750,460 285,465 Z"/>
    <path d="M285,645 C700,650 1000,850 1112,1022 C1000,1220 700,1400 285,1405 Z"/>
  </g>
  <rect x="1443" y="118" width="590" height="340" rx="42" fill="#fff" stroke="#cc93c4" stroke-width="20"/>
  <rect x="1283" y="896" width="655" height="337" rx="42" fill="#fff" stroke="#cc93c4" stroke-width="20"/>
  <rect x="142" y="499" width="561" height="109" rx="12" fill="#fff" stroke="#ff00ff" stroke-width="18"/>
  <circle cx="62" cy="738" r="20" fill="#dfe6fb" stroke="#9aaaf0" stroke-width="4"/>
  <g fill="#087a08" font-weight="bold" font-size="75" stroke="#087a08" stroke-width="2.4">
    <text x="300" y="240" textLength="770" lengthAdjust="spacingAndGlyphs">la listhosphère est</text>
    <text x="300" y="335" textLength="742" lengthAdjust="spacingAndGlyphs">une couche rigide</text>
    <text x="305" y="900" textLength="700" lengthAdjust="spacingAndGlyphs">l'asthénosphère,</text>
    <text x="308" y="995" textLength="495" lengthAdjust="spacingAndGlyphs">couche plus</text>
    <text x="305" y="1095" textLength="690" lengthAdjust="spacingAndGlyphs">molle,animée de</text>
    <text x="300" y="1195" textLength="540" lengthAdjust="spacingAndGlyphs">mouvements</text>
  </g>
  <g fill="#2a2a2a" font-weight="bold" font-size="75" stroke="#2a2a2a" stroke-width="2.4">
    <text x="1488" y="225" textLength="348" lengthAdjust="spacingAndGlyphs">les ondes</text>
    <text x="1485" y="310" textLength="505" lengthAdjust="spacingAndGlyphs">circulent plus</text>
    <text x="1485" y="405" textLength="135" lengthAdjust="spacingAndGlyphs">vite</text>
    <text x="1325" y="1000" textLength="348" lengthAdjust="spacingAndGlyphs">les ondes</text>
    <text x="1322" y="1090" textLength="575" lengthAdjust="spacingAndGlyphs">circulent moins</text>
    <text x="1322" y="1180" textLength="135" lengthAdjust="spacingAndGlyphs">vite</text>
  </g>
  <text x="170" y="575" fill="#000" stroke="#000" stroke-width="2" font-weight="bold" font-size="66" textLength="500" lengthAdjust="spacingAndGlyphs">qui repose sur</text>
</g>

<g>
  <path d="M838.6,156.9 C822,148 817.4,142 817.4,137.2 C817.4,117.9 871,102.2 937.6,102.2 C1004,102.2 1057.8,117.9 1057.8,137.2 C1057.8,156.5 1004,172.3 937.6,172.3 C905,172.3 880,169 860.4,163.3 L816,172.9 Z" fill="#fff" stroke="#ee00ee" stroke-width="2.6" stroke-linejoin="miter"/>
  <g transform="translate(848,138)">
    <path d="M-8,-2 C-8,-10 -3,-14 0,-14 C3,-14 8,-10 8,-2 C8,3 4,5 3,9 L-3,9 C-4,5 -8,3 -8,-2 Z" fill="#f2a818" stroke="#c07808" stroke-width="0.8"/>
    <ellipse cx="-2" cy="-6" rx="3" ry="4" fill="#fde870"/>
    <rect x="-3.5" y="9" width="7" height="5" fill="#a88860"/>
    <path d="M-9,-18 L-7,-15 M-4,-20 L-3,-16 M1,-20 L1,-16 M5,-20 L4,-16 M10,-18 L7,-15" stroke="#8a6a3a" stroke-width="1.2"/>
  </g>
  <text x="868" y="144" font-size="17" font-weight="bold" fill="#ee00ee" stroke="#ee00ee" stroke-width="0.9" textLength="172" lengthAdjust="spacingAndGlyphs">valentine dutour 2010</text>
</g>

</svg>
</body></html>
